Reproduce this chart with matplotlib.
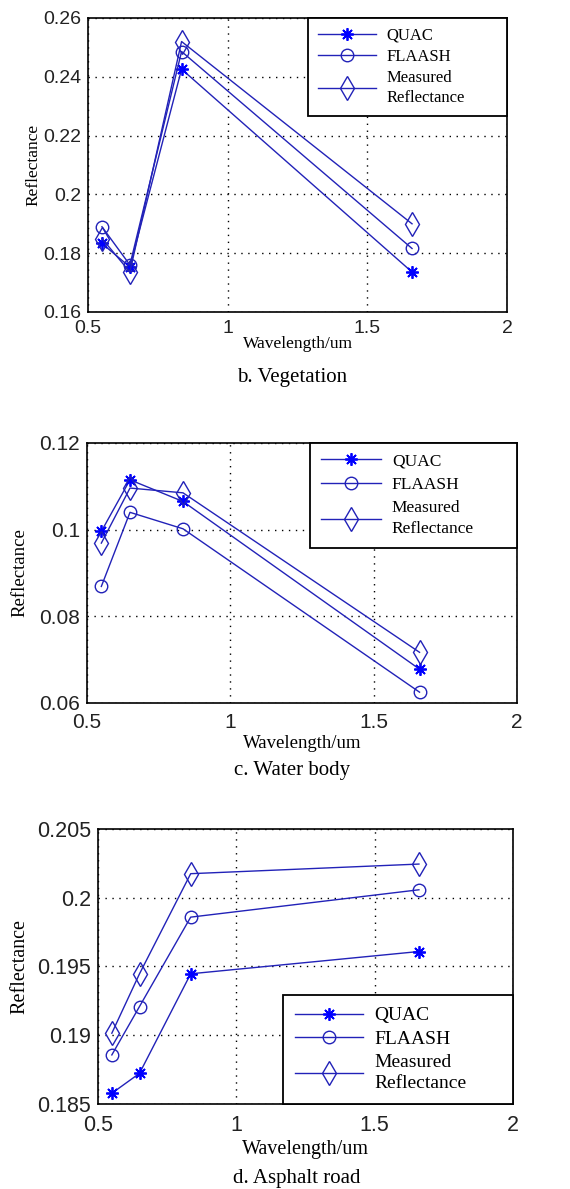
import matplotlib
matplotlib.use("Agg")
import matplotlib.pyplot as plt
import numpy as np

wavelength = [0.55, 0.65, 0.835, 1.66]
series_names = ["QUAC", "FLAASH", "Measured\nReflectance"]

veg_quac = [0.1833, 0.1753, 0.2426, 0.1736]
veg_flaash = [0.1890, 0.1760, 0.2486, 0.1816]
veg_measured = [0.1850, 0.1736, 0.2520, 0.1900]

water_quac = [0.0996, 0.1115, 0.1065, 0.0678]
water_flaash = [0.0869, 0.1040, 0.1002, 0.0625]
water_measured = [0.0969, 0.1096, 0.1085, 0.0717]

road_quac = [0.18578, 0.18723, 0.19447, 0.19609]
road_flaash = [0.18857, 0.19209, 0.19859, 0.20058]
road_measured = [0.19015, 0.19447, 0.20175, 0.20245]

x_ticks = [0.5, 1, 1.5, 2]
x_tick_labels = ["0.5", "1", "1.5", "2"]
veg_yticks = [0.16, 0.18, 0.2, 0.22, 0.24, 0.26]
veg_ylabels = ["0.16", "0.18", "0.2", "0.22", "0.24", "0.26"]
water_yticks = [0.06, 0.08, 0.1, 0.12]
water_ylabels = ["0.06", "0.08", "0.1", "0.12"]
road_yticks = [0.185, 0.19, 0.195, 0.2, 0.205]
road_ylabels = ["0.185", "0.19", "0.195", "0.2", "0.205"]

captions = ["b. Vegetation", "c. Water body", "d. Asphalt road"]

W, H = 570, 1189
fig = plt.figure(figsize=(W / 100, H / 100), dpi=100)

line_color = "#2222b8"
star = (8, 2, 0)

def make_axes(left, right, top, bottom):
    return fig.add_axes([left / W, 1 - bottom / H, (right - left) / W, (bottom - top) / H])

panels = [
    dict(box=(88, 507, 18, 312), data=(veg_quac, veg_flaash, veg_measured),
         yt=veg_yticks, yl=veg_ylabels, tick_fs=14, lab_fs=12.5, leg_fs=12,
         xlab=-0.08, ylab=-0.11, leg_loc="upper right", leg_x0=0.525,
         xpad=6, lsp=0.3, lin=1.3, cap=(292, 377)),
    dict(box=(87, 517, 443, 703), data=(water_quac, water_flaash, water_measured),
         yt=water_yticks, yl=water_ylabels, tick_fs=15, lab_fs=13.5, leg_fs=12.5,
         xlab=-0.125, ylab=-0.135, leg_loc="upper right", leg_x0=0.519,
         xpad=7, lsp=0.42, lin=1.4, cap=(292, 771)),
    dict(box=(98, 513, 829, 1104), data=(road_quac, road_flaash, road_measured),
         yt=road_yticks, yl=road_ylabels, tick_fs=15.5, lab_fs=14.5, leg_fs=14,
         xlab=-0.13, ylab=-0.165, leg_loc="lower right", leg_x0=0.446,
         xpad=8, lsp=0.32, lin=1.3, cap=(297, 1178)),
]

for i, p in enumerate(panels):
    ax = make_axes(*p["box"])
    q, f, m = p["data"]
    h1, = ax.plot(wavelength, q, color=line_color, lw=1.0, marker=star, ms=9,
                  mec="#0000ff", mew=1.3, label=series_names[0])
    h2, = ax.plot(wavelength, f, color=line_color, lw=1.0, marker="o", ms=9,
                  mfc="none", mec=line_color, mew=1.0, label=series_names[1])
    h3, = ax.plot(wavelength, m, color=line_color, lw=1.0, marker="d", ms=12,
                  mfc="none", mec=line_color, mew=1.0, label=series_names[2])
    ax.set_xlim(0.5, 2)
    ax.set_ylim(p["yt"][0], p["yt"][-1])
    ax.set_xticks(x_ticks)
    ax.set_xticklabels(x_tick_labels)
    ax.set_yticks(p["yt"])
    ax.set_yticklabels(p["yl"])
    ax.tick_params(length=0, labelsize=p["tick_fs"], colors="#222222")
    ax.tick_params(axis="x", pad=p["xpad"])
    ax.tick_params(axis="y", pad=5)
    for lab in ax.get_xticklabels() + ax.get_yticklabels():
        lab.set_family("Liberation Sans")
    ax.grid(True, color="black", linestyle=(0, (1, 4)), linewidth=1.0)
    for s in ax.spines.values():
        s.set_linewidth(1.2)
    ax.set_xlabel("Wavelength/um", family="Liberation Serif", fontsize=p["lab_fs"])
    ax.set_ylabel("Reflectance", family="Liberation Serif", fontsize=p["lab_fs"])
    ax.xaxis.set_label_coords(0.5, p["xlab"])
    ax.yaxis.set_label_coords(p["ylab"], 0.5)
    leg = ax.legend(handles=[h1, h2, h3], loc=p["leg_loc"], borderaxespad=0,
                    bbox_to_anchor=(p["leg_x0"], 0, 1 - p["leg_x0"], 1), mode="expand",
                    prop={"family": "Liberation Serif", "size": p["leg_fs"]},
                    handlelength=3.5, labelspacing=p["lsp"], handletextpad=0.6,
                    borderpad=0.6, fancybox=False, framealpha=1, edgecolor="black")
    for t in leg.get_texts():
        t.set_linespacing(p["lin"])
    leg.get_frame().set_linewidth(1.3)
    fig.text(p["cap"][0] / W, 1 - p["cap"][1] / H, captions[i],
             ha="center", va="center", family="Liberation Serif", fontsize=15)

fig.savefig("out.png", dpi=100)
